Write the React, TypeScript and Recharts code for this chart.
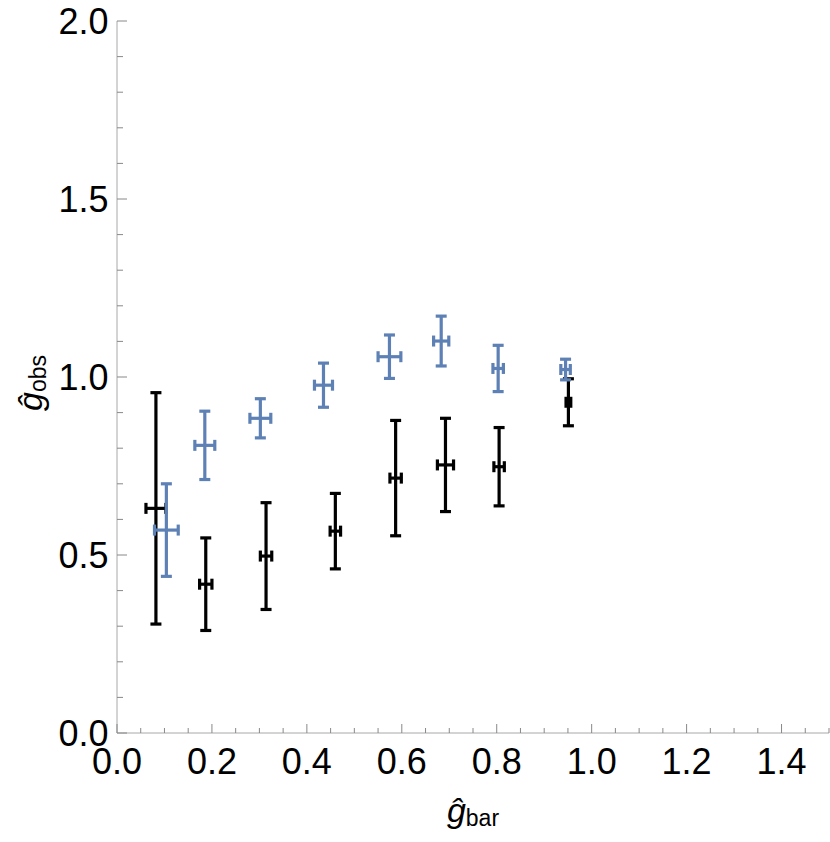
import { ScatterChart, Scatter, XAxis, YAxis, ErrorBar } from 'recharts';

// black series (lower)
const BLACK_X = [0.082, 0.187, 0.314, 0.46, 0.587, 0.692, 0.805, 0.951];
const BLACK_Y = [0.631, 0.418, 0.497, 0.567, 0.716, 0.753, 0.748, 0.929];
const BLACK_X_ERR = [0.021, 0.013, 0.012, 0.011, 0.012, 0.017, 0.011, 0.005];
const BLACK_Y_ERR = [0.325, 0.13, 0.15, 0.106, 0.162, 0.131, 0.11, 0.066];

// blue series (upper)
const BLUE_X = [0.104, 0.185, 0.302, 0.435, 0.574, 0.683, 0.803, 0.945];
const BLUE_Y = [0.57, 0.808, 0.884, 0.977, 1.057, 1.101, 1.024, 1.021];
const BLUE_X_ERR = [0.025, 0.021, 0.022, 0.019, 0.024, 0.016, 0.011, 0.01];
const BLUE_Y_ERR = [0.13, 0.096, 0.055, 0.062, 0.061, 0.07, 0.065, 0.029];

const X_TICKS = [
  0, 0.05, 0.1, 0.15, 0.2, 0.25, 0.3, 0.35, 0.4, 0.45, 0.5, 0.55, 0.6, 0.65, 0.7, 0.75,
  0.8, 0.85, 0.9, 0.95, 1.0, 1.05, 1.1, 1.15, 1.2, 1.25, 1.3, 1.35, 1.4, 1.45, 1.5,
];
const X_LABELS = [0, 0.2, 0.4, 0.6, 0.8, 1.0, 1.2, 1.4];
const Y_TICKS = [
  0, 0.1, 0.2, 0.3, 0.4, 0.5, 0.6, 0.7, 0.8, 0.9, 1.0, 1.1, 1.2, 1.3, 1.4, 1.5, 1.6, 1.7,
  1.8, 1.9, 2.0,
];
const Y_LABELS = [0, 0.5, 1.0, 1.5, 2.0];

const blackData = BLACK_X.map((x, i) => ({ x, y: BLACK_Y[i], ex: BLACK_X_ERR[i], ey: BLACK_Y_ERR[i] }));
const blueData = BLUE_X.map((x, i) => ({ x, y: BLUE_Y[i], ex: BLUE_X_ERR[i], ey: BLUE_Y_ERR[i] }));

const FRAME = '#a8a8a8';
const TICK = '#888888';
const BLUE = '#5e81b5';
const FONT = '"Liberation Sans", Arial, sans-serif';

const has = (list: number[], v: number) => list.some((l) => Math.abs(l - v) < 1e-6);

function BottomTick(props: any) {
  const { x, y, payload } = props;
  const v = payload.value;
  const major = has(X_LABELS, v);
  return (
    <g>
      <line x1={x} y1={y} x2={x} y2={y - (major ? 9 : 5)} stroke={TICK} strokeWidth={1} />
      {major && (
        <text x={x} y={y + 41} textAnchor="middle" fontSize={36} fontFamily={FONT} fill="#000">
          {v.toFixed(1)}
        </text>
      )}
    </g>
  );
}

function TopTick(props: any) {
  const { x, y, payload } = props;
  const major = has(X_LABELS, payload.value);
  return <line x1={x} y1={y} x2={x} y2={y + (major ? 9 : 5)} stroke={TICK} strokeWidth={1} />;
}

function LeftTick(props: any) {
  const { x, y, payload } = props;
  const v = payload.value;
  const major = has(Y_LABELS, v);
  return (
    <g>
      <line x1={x} y1={y} x2={x + (major ? 10 : 6)} y2={y} stroke={TICK} strokeWidth={1} />
      {major && (
        <text x={x - 8.5} y={y + 13} textAnchor="end" fontSize={36} fontFamily={FONT} fill="#000">
          {v.toFixed(1)}
        </text>
      )}
    </g>
  );
}

function RightTick(props: any) {
  const { x, y, payload } = props;
  const major = has(Y_LABELS, payload.value);
  return <line x1={x} y1={y} x2={x - (major ? 10 : 6)} y2={y} stroke={TICK} strokeWidth={1} />;
}

function XTitle(props: any) {
  const vb = props.viewBox;
  return (
    <text x={vb.x + vb.width / 2} y={vb.y + 89} textAnchor="middle" fontFamily={FONT} fill="#000">
      <tspan fontSize={34} fontStyle="italic">ĝ</tspan>
      <tspan fontSize={23} dy={4}>bar</tspan>
    </text>
  );
}

function YTitle(props: any) {
  const vb = props.viewBox;
  const cx = 42;
  const cy = vb.y + vb.height / 2 + 6;
  return (
    <text x={cx} y={cy} transform={`rotate(-90 ${cx} ${cy})`} textAnchor="middle" fontFamily={FONT} fill="#000">
      <tspan fontSize={34} fontStyle="italic">ĝ</tspan>
      <tspan fontSize={23} dy={4}>obs</tspan>
    </text>
  );
}

const noDot = () => <g />;

export default function App() {
  return (
    <div style={{ position: 'absolute', left: 0, top: 0, background: '#fff' }}>
      <ScatterChart width={830} height={842} margin={{ top: 21, right: 1, bottom: 0, left: 0 }}>
        <XAxis
          xAxisId="b"
          dataKey="x"
          type="number"
          domain={[0, 1.5]}
          ticks={X_TICKS}
          interval={0}
          height={109}
          tickSize={0}
          tickMargin={0}
          tickLine={false}
          axisLine={{ stroke: FRAME }}
          tick={<BottomTick />}
          label={{ content: <XTitle /> }}
        />
        <XAxis
          xAxisId="t"
          orientation="top"
          dataKey="x"
          type="number"
          domain={[0, 1.5]}
          ticks={X_TICKS}
          interval={0}
          height={0}
          tickSize={0}
          tickMargin={0}
          tickLine={false}
          axisLine={{ stroke: FRAME }}
          tick={<TopTick />}
        />
        <YAxis
          yAxisId="l"
          dataKey="y"
          type="number"
          domain={[0, 2]}
          ticks={Y_TICKS}
          interval={0}
          width={117}
          tickSize={0}
          tickMargin={0}
          tickLine={false}
          axisLine={{ stroke: FRAME }}
          tick={<LeftTick />}
          label={{ content: <YTitle /> }}
        />
        <YAxis
          yAxisId="r"
          orientation="right"
          dataKey="y"
          type="number"
          domain={[0, 2]}
          ticks={Y_TICKS}
          interval={0}
          width={0}
          tickSize={0}
          tickMargin={0}
          tickLine={false}
          axisLine={{ stroke: FRAME }}
          tick={<RightTick />}
        />
        <Scatter data={blackData} xAxisId="b" yAxisId="l" shape={noDot} isAnimationActive={false}>
          <ErrorBar dataKey="ey" direction="y" width={5.5} stroke="#000" strokeWidth={3.2} isAnimationActive={false} />
          <ErrorBar dataKey="ex" direction="x" width={5.5} stroke="#000" strokeWidth={3.2} isAnimationActive={false} />
        </Scatter>
        <Scatter data={blueData} xAxisId="b" yAxisId="l" shape={noDot} isAnimationActive={false}>
          <ErrorBar dataKey="ey" direction="y" width={5.5} stroke={BLUE} strokeWidth={3.2} isAnimationActive={false} />
          <ErrorBar dataKey="ex" direction="x" width={5.5} stroke={BLUE} strokeWidth={3.2} isAnimationActive={false} />
        </Scatter>
      </ScatterChart>
    </div>
  );
}
